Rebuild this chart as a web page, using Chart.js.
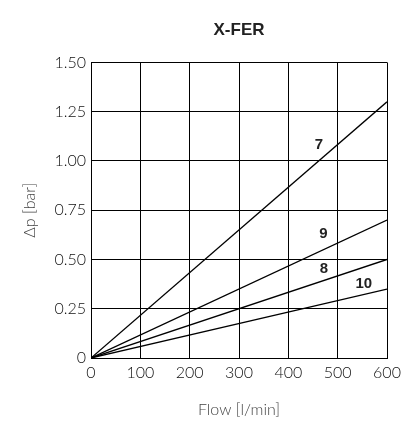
<!DOCTYPE html>
<html lang="en">
<head>
  <meta charset="UTF-8">
  <title>X-FER</title>
  <script src="https://cdn.jsdelivr.net/npm/chart.js@4.4.0/dist/chart.umd.min.js"></script>
  <style>
    html, body { margin: 0; padding: 0; background: #fff; }
    #wrap { width: 403px; height: 424px; }
  </style>
</head>
<body>
  <div id="wrap"><canvas id="chart"></canvas></div>
  <script>
    // pressure drop curves, one per size
    var sizes = ['7', '9', '8', '10'];
    var flowEnd = 600;
    var dpAtEnd = [1.30, 0.70, 0.50, 0.35];
    // where each size label sits (flow, dp)
    var labelFlow = [462, 471, 472, 553];
    var labelDp = [1.08, 0.63, 0.45, 0.375];
    var yTicks = [0, 0.25, 0.5, 0.75, 1.0, 1.25, 1.5];
    var xTicks = [0, 100, 200, 300, 400, 500, 600];

    var tickFont = { family: 'Lato', size: 16, weight: '300' };

    var datasets = sizes.map(function (s, i) {
      return {
        label: s,
        data: [{ x: 0, y: 0 }, { x: flowEnd, y: dpAtEnd[i] }],
        borderColor: '#000',
        borderWidth: 1.3,
        pointRadius: 0,
        tension: 0
      };
    });

    var sizeLabels = {
      id: 'sizeLabels',
      afterDatasetsDraw: function (chart) {
        var c = chart.ctx, xs = chart.scales.x, ys = chart.scales.y;
        c.save();
        c.font = 'bold 15px "Liberation Sans", Arial, sans-serif';
        c.fillStyle = '#222';
        c.textAlign = 'center';
        c.textBaseline = 'middle';
        sizes.forEach(function (s, i) {
          c.fillText(s, xs.getPixelForValue(labelFlow[i]), ys.getPixelForValue(labelDp[i]));
        });
        c.restore();
      }
    };

    new Chart(document.getElementById('chart'), {
      type: 'line',
      data: { datasets: datasets },
      plugins: [sizeLabels],
      options: {
        responsive: true,
        maintainAspectRatio: false,
        animation: false,
        layout: { padding: { left: 0, right: 16, top: 0, bottom: 0 } },
        plugins: {
          legend: { display: false },
          tooltip: { enabled: false },
          title: {
            display: true,
            text: 'X-FER',
            fullSize: false,
            color: '#222',
            font: { family: '"Liberation Sans", Arial, sans-serif', size: 17, weight: 'bold' },
            padding: { top: 20, bottom: 22 }
          }
        },
        scales: {
          x: {
            type: 'linear',
            min: 0,
            max: 600,
            afterBuildTicks: function (axis) {
              axis.ticks = xTicks.map(function (v) { return { value: v }; });
            },
            afterFit: function (axis) {
              axis.height = 66;
              axis.paddingRight = 0;
              axis.paddingLeft = 0;
            },
            grid: { color: '#000', lineWidth: 1, drawTicks: false },
            border: { color: '#000', width: 1 },
            ticks: { color: '#111', font: tickFont, padding: 5, maxRotation: 0 },
            title: {
              display: true,
              text: 'Flow [l/min]',
              color: '#444',
              font: { family: 'Lato', size: 16, weight: '300' },
              padding: { top: 0, bottom: 5 }
            }
          },
          y: {
            type: 'linear',
            min: 0,
            max: 1.5,
            afterBuildTicks: function (axis) {
              axis.ticks = yTicks.map(function (v) { return { value: v }; });
            },
            afterFit: function (axis) { axis.width = 91; },
            grid: { color: '#000', lineWidth: 1, drawTicks: false },
            border: { color: '#000', width: 1 },
            ticks: {
              color: '#111',
              font: tickFont,
              padding: 5,
              callback: function (v) { return v === 0 ? '0' : v.toFixed(2); }
            },
            title: {
              display: true,
              text: 'Δp [bar]',
              color: '#444',
              font: { family: 'Lato', size: 16, weight: '300' },
              padding: { top: 20, bottom: 0 }
            }
          }
        }
      }
    });
  </script>
</body>
</html>
